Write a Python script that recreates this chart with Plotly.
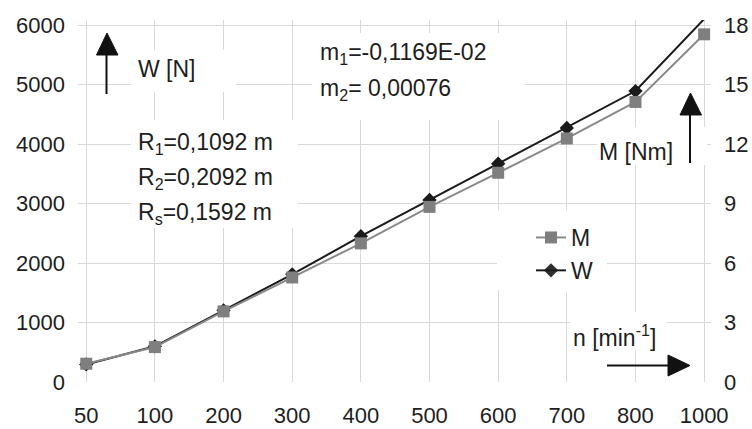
import plotly.graph_objects as go

# ---- data ----
n_labels = ["50", "100", "200", "300", "400", "500", "600", "700", "800", "1000"]
W_values = [295, 600, 1205, 1810, 2450, 3060, 3670, 4270, 4890, 6100]          # W [N], left axis
M_values = [0.92, 1.76, 3.56, 5.27, 6.99, 8.83, 10.55, 12.28, 14.12, 17.53]    # M [Nm], right axis
y_left_ticks = [0, 1000, 2000, 3000, 4000, 5000, 6000]
y_right_ticks = [0, 3, 6, 9, 12, 15, 18]

# ---- layout geometry (pixels of the 752x429 page) ----
WIDTH, HEIGHT = 752, 429
ML, MR, MT, MB = 78, 41, 20, 47
PW, PH = WIDTH - ML - MR, HEIGHT - MT - MB

def fx(px):
    return (px - ML) / PW

def fy(py):
    return (HEIGHT - MB - py) / PH

FONT = "Liberation Sans, Arial, sans-serif"
TXT = "#1e1e1e"
GRID = "#d9d9d9"
ANN_SIZE = 23
TICK_SIZE = 22

fig = go.Figure()
fig.add_trace(go.Scatter(
    x=n_labels, y=M_values, name="M", yaxis="y2", mode="lines+markers",
    line=dict(color="#8a8a8a", width=2),
    marker=dict(symbol="square", size=12, color="#7f7f7f"),
    legendgroup="m",
))
fig.add_trace(go.Scatter(
    x=n_labels, y=W_values, name="W", yaxis="y", mode="lines+markers",
    line=dict(color="#1a1a1a", width=2),
    marker=dict(symbol="diamond", size=11, color="#1a1a1a",
                opacity=[1] * (len(W_values) - 1) + [0]),
    legendgroup="w",
))

y_top = 6000 * PH / (PH - 5)

fig.update_layout(
    width=WIDTH, height=HEIGHT,
    margin=dict(l=ML, r=MR, t=MT, b=MB, autoexpand=False),
    paper_bgcolor="white", plot_bgcolor="white",
    font=dict(family=FONT, size=TICK_SIZE, color=TXT),
    xaxis=dict(type="category", range=[-0.12, 9.1], showgrid=True, gridcolor=GRID,
               gridwidth=1, showline=False, zeroline=False, ticks="", automargin=False,
               ticklabelstandoff=18, tickfont=dict(size=TICK_SIZE, color=TXT)),
    yaxis=dict(range=[0, y_top], tickvals=y_left_ticks, showgrid=True, gridcolor=GRID,
               gridwidth=1, showline=False, zeroline=False, ticks="", automargin=False,
               ticklabelstandoff=12, tickfont=dict(size=TICK_SIZE, color=TXT)),
    yaxis2=dict(range=[0, y_top / 6000 * 18], tickvals=y_right_ticks, overlaying="y",
                side="right", showgrid=False, showline=False, zeroline=False, ticks="",
                automargin=False, ticklabelstandoff=12, tickfont=dict(size=TICK_SIZE, color=TXT)),
    showlegend=True,
    legend=dict(x=fx(531), y=fy(216), xanchor="left", yanchor="top",
                bgcolor="white", borderwidth=0, font=dict(size=ANN_SIZE, color=TXT),
                tracegroupgap=0, itemclick=False),
)

# white text boxes that hide the grid lines behind texts (no data passes there)
boxes = [(131, 50, 236, 92), (131, 120, 298, 228), (312, 33, 525, 120),
         (597, 127, 707, 165), (570, 312, 667, 350), (497, 210, 607, 290)]
for x0, y0, x1, y1 in boxes:
    fig.add_shape(type="rect", xref="paper", yref="paper",
                  x0=fx(x0), x1=fx(x1), y0=fy(y1), y1=fy(y0),
                  fillcolor="white", line=dict(width=0), layer="above")

# text labels
texts = [
    ("W [N]", 136, 69),
    ("m<sub>1</sub>=-0,1169E-02", 318, 54),
    ("m<sub>2</sub>= 0,00076", 318, 90),
    ("R<sub>1</sub>=0,1092 m", 136, 143),
    ("R<sub>2</sub>=0,2092 m", 136, 178),
    ("R<sub>s</sub>=0,1592 m", 136, 213),
    ("M [Nm]", 597, 152),
    ("n [min<sup>-1</sup>]", 571, 336),
]
for t, x, y in texts:
    fig.add_annotation(text=t, xref="paper", yref="paper", x=fx(x), y=fy(y),
                       xanchor="left", yanchor="middle", showarrow=False,
                       font=dict(size=ANN_SIZE, color=TXT, family=FONT))

# arrows: shaft lines + filled triangle heads
def add_arrow(shaft, head):
    (sx0, sy0), (sx1, sy1) = shaft
    fig.add_shape(type="line", xref="paper", yref="paper",
                  x0=fx(sx0), y0=fy(sy0), x1=fx(sx1), y1=fy(sy1),
                  line=dict(color="#111111", width=2), layer="above")
    pts = " L ".join(f"{fx(a):.5f},{fy(b):.5f}" for a, b in head)
    fig.add_shape(type="path", xref="paper", yref="paper", path=f"M {pts} Z",
                  fillcolor="#111111", line=dict(color="#111111", width=1), layer="above")

add_arrow(((106.5, 94), (106.5, 54)), [(96.5, 55), (118, 55), (107, 33)])
add_arrow(((690, 163), (690, 114)), [(680, 115), (701.5, 115), (690.5, 93)])
add_arrow(((607, 365.5), (669, 365.5)), [(668, 355), (668, 376), (690, 365.5)])

fig.write_html("out.html")
